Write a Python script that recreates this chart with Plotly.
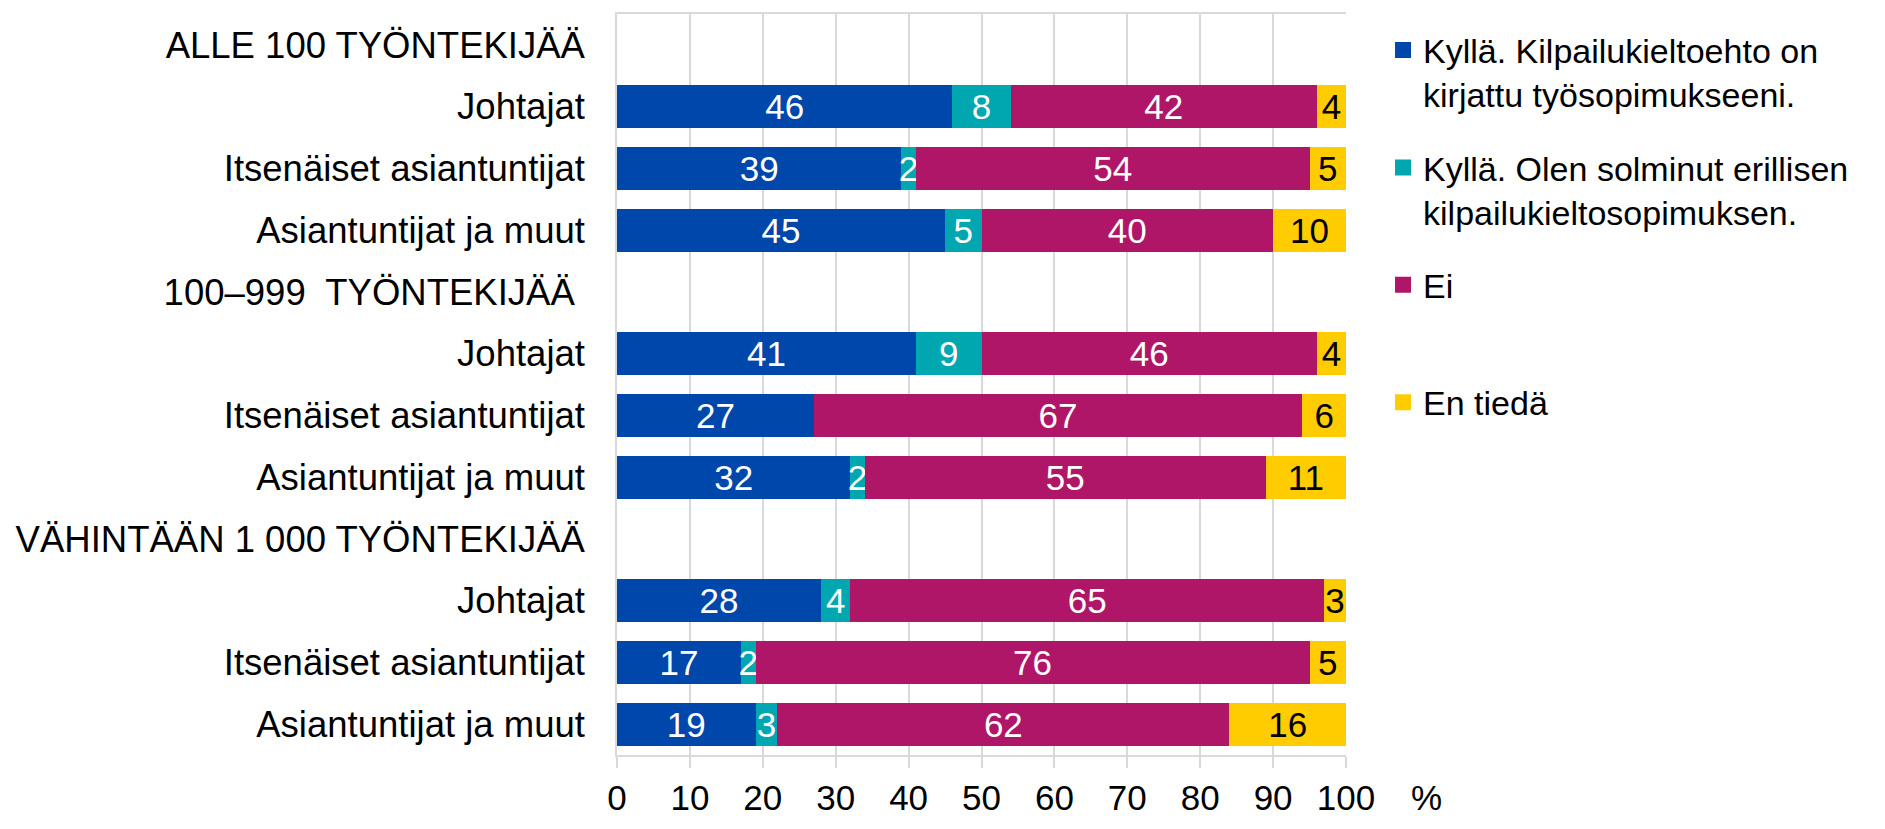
import plotly.graph_objects as go

labels = [
    "ALLE 100 TYÖNTEKIJÄÄ",
    "Johtajat",
    "Itsenäiset asiantuntijat",
    "Asiantuntijat ja muut",
    "100–999  TYÖNTEKIJÄÄ ",
    "Johtajat",
    "Itsenäiset asiantuntijat",
    "Asiantuntijat ja muut",
    "VÄHINTÄÄN 1 000 TYÖNTEKIJÄÄ",
    "Johtajat",
    "Itsenäiset asiantuntijat",
    "Asiantuntijat ja muut",
]

kylla_ehto = [None, 46, 39, 45, None, 41, 27, 32, None, 28, 17, 19]
kylla_erillinen = [None, 8, 2, 5, None, 9, 0, 2, None, 4, 2, 3]
ei = [None, 42, 54, 40, None, 46, 67, 55, None, 65, 76, 62]
en_tieda = [None, 4, 5, 10, None, 4, 6, 11, None, 3, 5, 16]

series_names = [
    "Kyllä. Kilpailukieltoehto on<br>kirjattu työsopimukseeni.",
    "Kyllä. Olen solminut erillisen<br>kilpailukieltosopimuksen.",
    "Ei<br> ",
    "En tiedä<br> ",
]
series_values = [kylla_ehto, kylla_erillinen, ei, en_tieda]
colors = ["#0047ab", "#00a6b0", "#b01667", "#ffcc00"]
text_colors = ["white", "white", "white", "black"]

FONT = "Liberation Sans, Arial, sans-serif"
positions = list(range(len(labels)))

fig = go.Figure()
for i, (name, vals) in enumerate(zip(series_names, series_values)):
    fig.add_trace(go.Bar(
        y=positions,
        x=vals,
        name=name,
        orientation="h",
        marker=dict(color=colors[i], line=dict(width=0)),
        text=[str(v) if v else "" for v in vals],
        textposition="inside",
        insidetextanchor="middle",
        textangle=0,
        textfont=dict(family=FONT, size=35, color=text_colors[i]),
        legendgroup=f"g{i}",
        showlegend=False,
        hoverinfo="skip",
        width=0.70,
    ))

# legend entries with larger square swatches
for i, name in enumerate(series_names):
    fig.add_trace(go.Scatter(
        x=[None], y=[None],
        mode="markers",
        name=name,
        marker=dict(symbol="square", size=16, color=colors[i]),
        legendgroup=f"g{i}",
        showlegend=True,
        hoverinfo="skip",
    ))

fig.update_layout(
    barmode="stack",
    width=1869,
    height=813,
    margin=dict(l=609, r=531, t=4, b=55),
    plot_bgcolor="white",
    paper_bgcolor="white",
    font=dict(family=FONT, size=34, color="black"),
    uniformtext=dict(minsize=35, mode="show"),
    showlegend=True,
    legend=dict(
        x=1.0508, y=0.99, xanchor="left", yanchor="top",
        font=dict(family=FONT, size=34, color="black"),
        valign="top",
        tracegroupgap=26,
        traceorder="grouped",
        bgcolor="rgba(0,0,0,0)",
    ),
    xaxis=dict(
        range=[0, 100],
        dtick=10,
        tick0=0,
        showgrid=True,
        gridcolor="#d9d9d9",
        gridwidth=1.5,
        showline=True,
        linecolor="#d9d9d9",
        linewidth=1.5,
        mirror=True,
        ticks="outside",
        ticklen=11,
        tickcolor="#d9d9d9",
        tickwidth=1.5,
        tickfont=dict(family=FONT, size=35, color="black"),
        zeroline=False,
        fixedrange=True,
    ),
    yaxis=dict(
        tickmode="array",
        tickvals=positions,
        ticktext=labels,
        autorange="reversed",
        showgrid=False,
        showline=True,
        linecolor="#d9d9d9",
        linewidth=1.5,
        ticks="",
        ticklabelstandoff=23,
        tickfont=dict(family=FONT, size=36.5, color="black"),
        zeroline=False,
        fixedrange=True,
    ),
    annotations=[
        dict(
            text="%", xref="paper", yref="paper", x=1.111, y=-0.058,
            xanchor="center", yanchor="middle", showarrow=False,
            font=dict(family=FONT, size=35, color="black"),
        )
    ],
)

fig.write_html("out.html")
